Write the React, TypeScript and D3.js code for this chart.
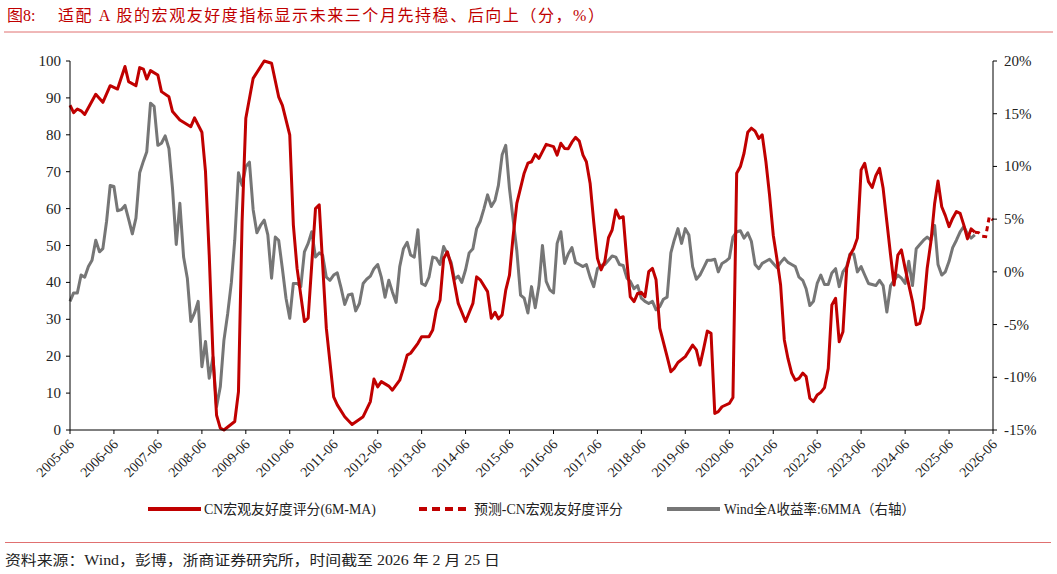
import React from "react";
import * as d3 from "d3";

const W = 1057;
const H = 574;

const xTickLabels = ["2005-06","2006-06","2007-06","2008-06","2009-06","2010-06","2011-06","2012-06","2013-06","2014-06","2015-06","2016-06","2017-06","2018-06","2019-06","2020-06","2021-06","2022-06","2023-06","2024-06","2025-06","2026-06"];
const leftTicks = [0, 10, 20, 30, 40, 50, 60, 70, 80, 90, 100];
const rightTicks = [-15, -10, -5, 0, 5, 10, 15, 20];

// CN宏观友好度评分(6M-MA) — key vertices
const redDates = ["2005-06","2005-07","2005-08","2005-09","2005-10","2006-01","2006-03","2006-05","2006-07","2006-09","2006-10","2006-12","2007-01","2007-02","2007-03","2007-04","2007-06","2007-07","2007-09","2007-10","2007-12","2008-03","2008-04","2008-06","2008-07","2008-08","2008-09","2008-10","2008-11","2008-12","2009-03","2009-04","2009-05","2009-06","2009-08","2009-11","2010-01","2010-03","2010-04","2010-06","2010-07","2010-08","2010-10","2010-11","2011-01","2011-02","2011-04","2011-06","2011-07","2011-09","2011-11","2012-02","2012-04","2012-05","2012-06","2012-07","2012-09","2012-10","2012-12","2013-01","2013-02","2013-03","2013-05","2013-06","2013-08","2013-09","2013-10","2013-11","2013-12","2014-01","2014-02","2014-04","2014-06","2014-08","2014-09","2014-10","2014-12","2015-01","2015-02","2015-03","2015-04","2015-05","2015-06","2015-07","2015-08","2015-10","2015-11","2015-12","2016-01","2016-02","2016-04","2016-06","2016-07","2016-08","2016-09","2016-10","2016-11","2016-12","2017-01","2017-02","2017-03","2017-04","2017-05","2017-06","2017-07","2017-08","2017-09","2017-10","2017-11","2017-12","2018-01","2018-02","2018-03","2018-04","2018-05","2018-06","2018-07","2018-08","2018-09","2018-10","2018-11","2019-01","2019-02","2019-03","2019-04","2019-06","2019-08","2019-09","2019-10","2019-11","2019-12","2020-01","2020-02","2020-03","2020-04","2020-06","2020-07","2020-08","2020-09","2020-10","2020-11","2020-12","2021-01","2021-02","2021-03","2021-04","2021-05","2021-06","2021-07","2021-08","2021-09","2021-10","2021-11","2021-12","2022-01","2022-02","2022-03","2022-04","2022-05","2022-06","2022-07","2022-08","2022-09","2022-10","2022-11","2022-12","2023-01","2023-02","2023-03","2023-04","2023-05","2023-06","2023-07","2023-08","2023-09","2023-10","2023-11","2023-12","2024-01","2024-02","2024-03","2024-04","2024-05","2024-06","2024-08","2024-09","2024-10","2024-11","2024-12","2025-01","2025-02","2025-03","2025-04","2025-05","2025-06","2025-07","2025-08","2025-09","2025-10","2025-11","2025-12","2026-01"];
const redValues = [88,86,87,86.5,85.5,91,88.8,93.3,92.4,98.5,94.4,93.3,98.2,97.8,95.1,97.4,96.2,91.7,90.3,86.3,84,82.2,84.6,80.7,70,47.4,20.3,4,0.5,0,2.3,10.4,56.4,84.5,95.3,100,99.4,90.3,88,80,55.6,43.8,29.4,30.3,60,61,27.6,9,6.8,3.6,1.5,3.6,7.7,13.8,11.7,13.1,11.9,10.8,13.5,16.7,20.3,20.8,23.5,25.3,25.3,27.1,32.5,35.2,46.5,48.3,44.7,34.3,29.4,34.3,41.5,40.7,37.5,30.3,31.9,30.1,31.2,37.9,42,52.4,61.4,69.6,72.3,72.7,74.7,73.6,77.4,76.8,74.5,77.7,76.3,76.2,78,79.3,78.3,74.5,72.7,66.9,56.4,46.5,43.4,45.6,52.1,54.2,59.6,57.4,57.8,45.6,36.1,34.8,37,37.3,36.1,42.9,43.8,40.7,27.6,19.9,15.8,16.7,18.3,19.9,23,21.7,17.6,22.1,26.8,26.2,4.5,5,6.3,7.2,8.8,69.6,71.4,75,80.7,81.8,81,79,80,72.7,63.7,52.8,46.5,39.3,24.4,19.4,15.4,13.5,14,15.4,14.5,8.6,7.7,9.5,10.2,11.5,16.7,33.9,35.7,23.9,26.6,43.8,47.4,49.2,52,70.5,72.3,67.3,65.7,68.9,70.9,65.5,56.4,47.4,39.3,47.4,48.8,43.8,34.8,28.5,28.9,33,43.8,51,61.4,67.5,60.5,58.1,55.1,57.4,59.2,58.7,55.6,51.8,54.5,53.6];

// 预测-CN宏观友好度评分
const forecastDates = ["2026-01","2026-02","2026-03","2026-04","2026-05","2026-06"];
const forecastValues = [53.6,53.5,52.5,52.4,57.8,56.9];

// Wind全A收益率:6MMA（右轴）, monthly from 2005-06, in %
const grayStart = "2005-06";
const grayValues = [-2.8,-2.0,-2.0,-0.3,-0.5,0.5,1.1,3.0,1.9,2.2,4.8,8.2,8.1,5.8,5.9,6.3,5.0,3.6,5.1,9.4,10.5,11.4,16.0,15.7,12.0,12.2,12.9,11.7,7.9,2.6,6.5,1.4,-0.6,-4.7,-3.9,-2.8,-9.0,-6.6,-10.1,-8.1,-12.8,-10.9,-6.5,-4.0,-1.0,3.0,9.4,8.2,10.0,10.4,5.9,3.7,4.4,4.9,3.5,-0.6,3.3,3.0,0.3,-2.5,-4.4,-1.1,-1.1,-1.4,1.9,2.7,3.8,1.4,1.8,1.6,-0.5,-0.8,-0.3,-0.1,-1.5,-3.1,-2.2,-2.1,-3.7,-3.0,-1.1,-0.7,-0.4,0.3,0.7,-0.5,-2.4,-0.8,-1.9,-2.9,0.5,2.2,2.8,1.6,1.4,4.0,-1.1,-1.3,-0.5,1.4,1.3,0.7,2.4,1.7,0.9,-0.7,-0.4,-1.0,0.2,1.8,2.2,4.1,4.8,6.0,7.3,6.2,6.8,8.2,11.1,12.0,7.9,5.0,2.0,-2.2,-2.5,-3.9,-1.4,-3.4,-1.3,2.5,-0.9,-1.7,-2.0,2.7,3.8,0.8,1.7,2.3,0.9,0.7,0.5,0.7,-0.5,-1.4,0.3,0.6,0.7,1.1,1.5,1.4,0.7,0.6,-0.6,-0.9,-1.6,-1.3,-2.5,-2.8,-3.0,-2.8,-3.6,-3.3,-2.6,-2.4,1.8,3.0,4.1,2.7,4.1,3.5,0.5,-0.7,-0.3,0.4,1.1,1.1,1.2,0.0,0.8,1.0,1.3,3.3,3.8,3.9,3.2,3.7,2.9,0.7,0.3,0.8,1.0,1.2,0.8,0.4,0.9,1.3,0.9,0.7,0.5,-0.5,-0.8,-1.6,-3.2,-2.8,-1.1,-0.3,-1.2,-1.2,-0.1,0.3,-1.4,0.0,0.5,1.7,1.7,0.0,0.5,-0.3,-1.1,-1.2,-1.3,-0.8,-1.3,-3.8,-1.3,-0.8,-0.3,-0.6,-1.1,1.0,-1.3,2.2,2.6,3.0,3.3,3.0,4.4,0.7,-0.3,0.0,1.0,2.3,3.0,3.8,4.3,3.6,3.2,3.5];

const titleLabel = "图8:";
const titleText = "适配 A 股的宏观友好度指标显示未来三个月先持稳、后向上（分，%）";
const legendLabels = ["CN宏观友好度评分(6M-MA)", "预测-CN宏观友好度评分", "Wind全A收益率:6MMA（右轴）"];
const sourceText = "资料来源：Wind，彭博，浙商证券研究所，时间截至 2026 年 2 月 25 日";

const RED = "#C00000";
const GRAY = "#767676";
const FONT = "'Liberation Serif', 'Times New Roman', 'Noto Sans CJK SC', serif";

export default function App() {
  const parse = d3.timeParse("%Y-%m");
  const x = d3.scaleTime().domain([parse("2005-06")!, parse("2026-06")!]).range([70, 993]);
  const yL = d3.scaleLinear().domain([0, 100]).range([430, 61]);
  const yR = d3.scaleLinear().domain([-15, 20]).range([430, 61]);

  const redPts = redDates.map((d, i) => [x(parse(d)!), yL(redValues[i])] as [number, number]);
  const fcPts = forecastDates.map((d, i) => [x(parse(d)!), yL(forecastValues[i])] as [number, number]);
  const g0 = parse(grayStart)!;
  const grayPts = grayValues.map((v, i) => [x(d3.timeMonth.offset(g0, i)), yR(v)] as [number, number]);
  const line = d3.line();

  const legendX = [148, 419, 667];

  return (
    <svg width={W} height={H} style={{ position: "absolute", left: 0, top: 0, background: "#fff" }} fontFamily={FONT}>
      <rect width={W} height={H} fill="#fff" />
      {/* title */}
      <text x={7} y={21} fontSize={16} fill={RED}>{titleLabel}</text>
      <text x={58} y={21} fontSize={16} fill={RED} textLength={546} lengthAdjust="spacing">{titleText}</text>
      <line x1={4} x2={1053} y1={32} y2={32} stroke="#E07070" strokeWidth={1} />

      {/* series */}
      <path d={line(grayPts)!} fill="none" stroke={GRAY} strokeWidth={3} strokeLinejoin="round" />
      <path d={line(redPts)!} fill="none" stroke={RED} strokeWidth={3} strokeLinejoin="round" />
      <path d={line(fcPts)!} fill="none" stroke={RED} strokeWidth={3} strokeDasharray="5,4" />

      {/* left axis */}
      <line x1={70} x2={70} y1={61} y2={430} stroke="#000" />
      {leftTicks.map((t) => (
        <g key={t}>
          <line x1={66} x2={70} y1={yL(t)} y2={yL(t)} stroke="#000" />
          <text x={61} y={yL(t) + 5} fontSize={15} textAnchor="end" fill="#222">{t}</text>
        </g>
      ))}
      {/* right axis */}
      <line x1={993} x2={993} y1={61} y2={430} stroke="#000" />
      {rightTicks.map((t) => (
        <g key={t}>
          <line x1={993} x2={997} y1={yR(t)} y2={yR(t)} stroke="#000" />
          <text x={1004} y={yR(t) + 5} fontSize={15} fill="#222">{t + "%"}</text>
        </g>
      ))}
      {/* bottom axis */}
      <line x1={70} x2={993} y1={430} y2={430} stroke="#000" />
      {xTickLabels.map((t) => {
        const xp = x(parse(t)!);
        return (
          <g key={t}>
            <line x1={xp} x2={xp} y1={430} y2={434} stroke="#000" />
            <text transform={`translate(${xp + 5},${445}) rotate(-45)`} fontSize={14} textAnchor="end" fill="#222">{t}</text>
          </g>
        );
      })}

      {/* legend */}
      <line x1={legendX[0]} x2={legendX[0] + 53} y1={509} y2={509} stroke={RED} strokeWidth={4} />
      <text x={legendX[0] + 56} y={514} fontSize={14} fill="#222" textLength={172} lengthAdjust="spacingAndGlyphs">{legendLabels[0]}</text>
      <line x1={legendX[1]} x2={legendX[1] + 51} y1={509} y2={509} stroke={RED} strokeWidth={4} strokeDasharray="8,5" />
      <text x={legendX[1] + 55} y={514} fontSize={14} fill="#222" textLength={149} lengthAdjust="spacingAndGlyphs">{legendLabels[1]}</text>
      <line x1={legendX[2]} x2={legendX[2] + 53} y1={509} y2={509} stroke={GRAY} strokeWidth={4} />
      <text x={legendX[2] + 57} y={514} fontSize={14} fill="#222" textLength={191} lengthAdjust="spacingAndGlyphs">{legendLabels[2]}</text>

      {/* source */}
      <line x1={5} x2={1051} y1={542.5} y2={542.5} stroke="#E07070" strokeWidth={1} />
      <text x={5} y={565} fontSize={14} fill="#222" textLength={495} lengthAdjust="spacingAndGlyphs">{sourceText}</text>
    </svg>
  );
}
